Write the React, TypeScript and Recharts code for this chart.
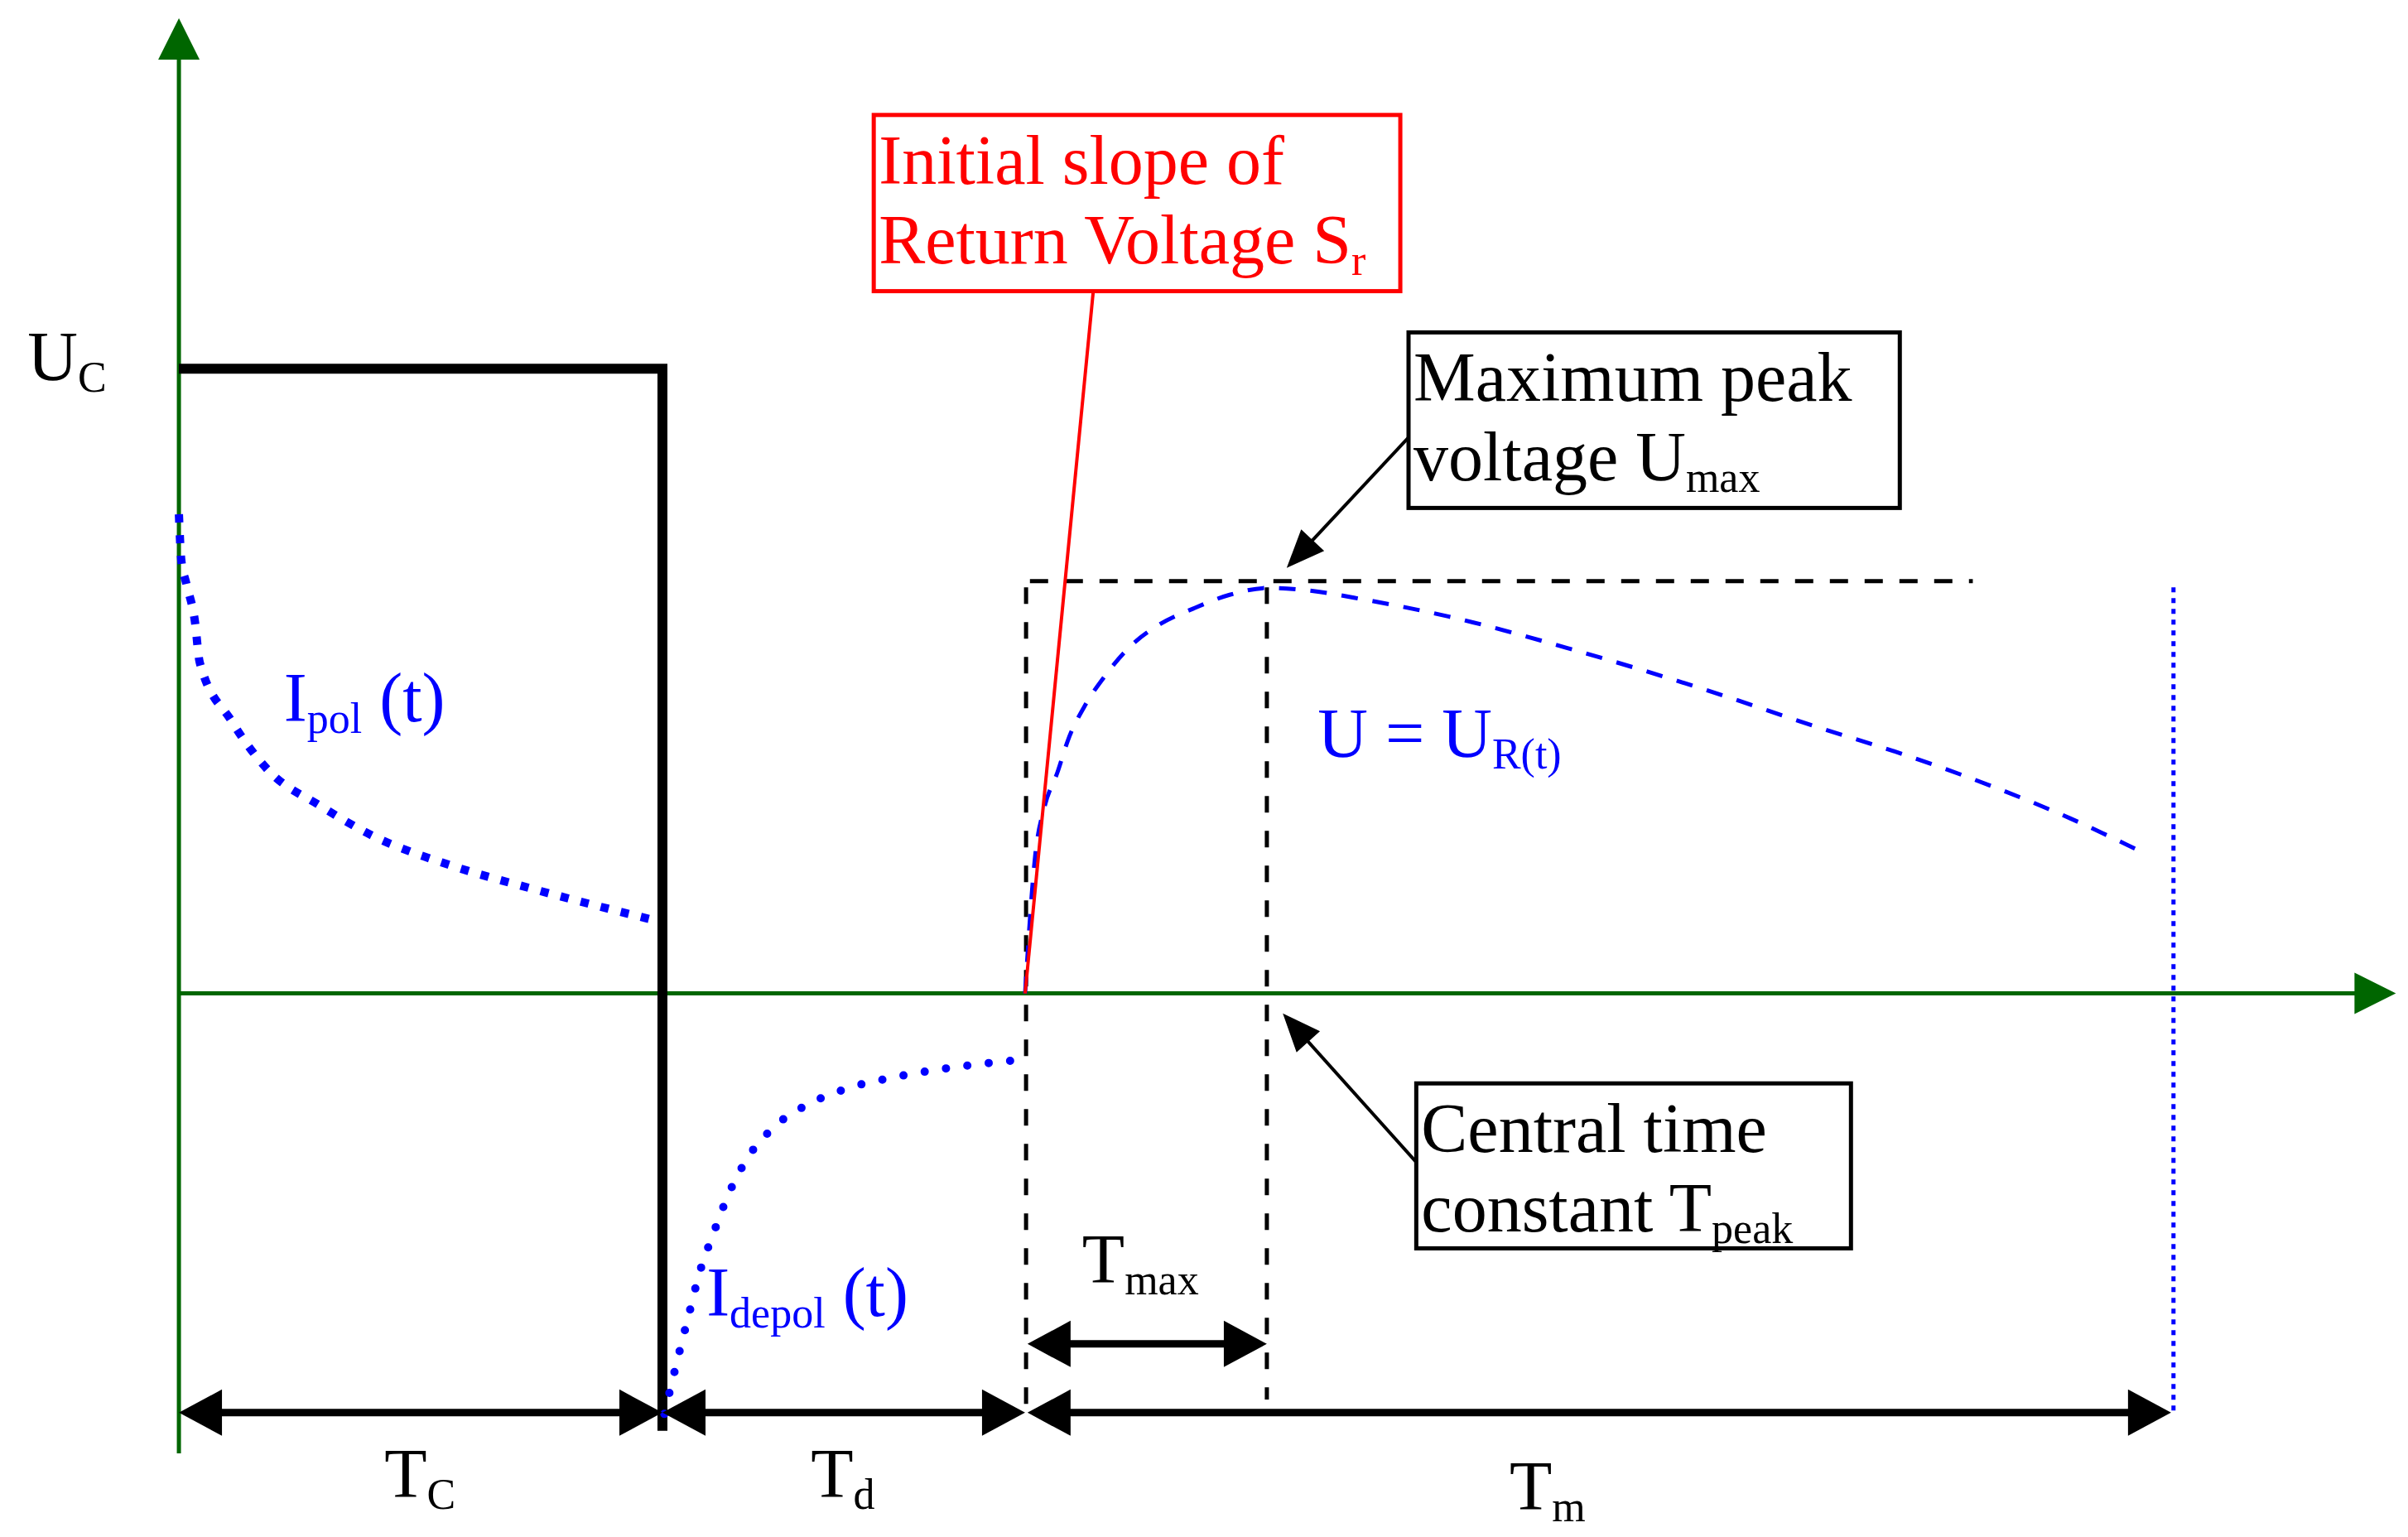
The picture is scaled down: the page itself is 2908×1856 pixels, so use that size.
import React from "react";
import {
  ComposedChart,
  Line,
  XAxis,
  YAxis,
  ReferenceLine,
  ReferenceArea,
  ReferenceDot,
} from "recharts";

const W = 2908;
const H = 1856;
const SERIF = "'Liberation Serif', 'Times New Roman', serif";
const FS = 84;
const SUB = 52;
const SUB_DY = 14;
const BLUE = "#0000ff";
const RED = "#ff0000";
const GREEN = "#006600";

// t: time (arbitrary units, 0 = start of charging), v: voltage / current, U_C = 1
const tDomain = [-3.7, 46.1];
const vDomain = [-0.87, 1.59];

const chargeVoltage = [
  { t: 0, v: 1 },
  { t: 10, v: 1 },
  { t: 10, v: -0.7 },
];

const polCurrent = [
  { t: 0.0, v: 0.767 },
  { t: 0.05, v: 0.693 },
  { t: 0.15, v: 0.657 },
  { t: 0.33, v: 0.596 },
  { t: 0.43, v: 0.53 },
  { t: 1.08, v: 0.437 },
  { t: 1.85, v: 0.357 },
  { t: 2.93, v: 0.3 },
  { t: 3.99, v: 0.253 },
  { t: 5.62, v: 0.205 },
  { t: 7.33, v: 0.167 },
  { t: 8.96, v: 0.134 },
  { t: 9.95, v: 0.115 },
];

const depolCurrent = [
  { t: 10.04, v: -0.673 },
  { t: 10.34, v: -0.577 },
  { t: 10.55, v: -0.513 },
  { t: 10.76, v: -0.449 },
  { t: 11.05, v: -0.385 },
  { t: 11.37, v: -0.321 },
  { t: 11.78, v: -0.261 },
  { t: 12.35, v: -0.211 },
  { t: 13.08, v: -0.175 },
  { t: 13.91, v: -0.15 },
  { t: 14.8, v: -0.134 },
  { t: 15.69, v: -0.122 },
  { t: 16.56, v: -0.113 },
  { t: 17.45, v: -0.106 },
];

const returnVoltage = [
  { t: 17.5, v: 0 },
  { t: 17.71, v: 0.221 },
  { t: 17.9, v: 0.298 },
  { t: 18.17, v: 0.354 },
  { t: 18.39, v: 0.406 },
  { t: 18.74, v: 0.461 },
  { t: 19.15, v: 0.508 },
  { t: 19.71, v: 0.558 },
  { t: 20.29, v: 0.591 },
  { t: 20.98, v: 0.616 },
  { t: 21.73, v: 0.638 },
  { t: 22.54, v: 0.649 },
  { t: 23.34, v: 0.645 },
  { t: 24.54, v: 0.63 },
  { t: 26.27, v: 0.603 },
  { t: 28.84, v: 0.55 },
  { t: 31.41, v: 0.49 },
  { t: 33.98, v: 0.424 },
  { t: 35.69, v: 0.382 },
  { t: 37.68, v: 0.326 },
  { t: 39.12, v: 0.28 },
  { t: 40.47, v: 0.231 },
];

const initialSlope = [
  { t: 17.5, v: 0 },
  { t: 18.91, v: 1.124 },
];
const umaxLevel = [
  { t: 17.6, v: 0.66 },
  { t: 37.1, v: 0.66 },
];
const tdEndMark = [
  { t: 17.52, v: 0.65 },
  { t: 17.52, v: -0.66 },
];
const tpeakMark = [
  { t: 22.5, v: 0.65 },
  { t: 22.5, v: -0.65 },
];
const tmEndMark = [
  { t: 41.25, v: 0.65 },
  { t: 41.25, v: -0.671 },
];

// axes drawn as arrows
const axisArrows = [
  { from: [0, -0.736], to: [0, 1.561] },
  { from: [0, 0], to: [45.85, 0] },
];

// dimension arrows (T_C, T_d, T_m, T_max)
const dimArrows = [
  { from: [0, -0.671], to: [10, -0.671] },
  { from: [10, -0.671], to: [17.5, -0.671] },
  { from: [17.55, -0.671], to: [41.2, -0.671] },
  { from: [17.55, -0.561], to: [22.5, -0.561] },
];

const pointerArrows = [
  { from: [25.42, 0.889], to: [22.91, 0.681] },
  { from: [25.59, -0.27], to: [22.83, -0.032] },
];

type Part = [string, number?];

const labels: { t: number; v: number; parts: Part[]; color: string }[] = [
  { t: -3.13, v: 0.981, parts: [["U"], ["C", 1]], color: "#000" },
  { t: 2.17, v: 0.435, parts: [["I"], ["pol", 1], [" (t)"]], color: BLUE },
  { t: 10.91, v: -0.516, parts: [["I"], ["depol", 1], [" (t)"]], color: BLUE },
  { t: 23.55, v: 0.379, parts: [["U = U"], ["R(t)", 1]], color: BLUE },
  { t: 18.68, v: -0.463, parts: [["T"], ["max", 1]], color: "#000" },
  { t: 4.25, v: -0.806, parts: [["T"], ["C", 1]], color: "#000" },
  { t: 13.07, v: -0.806, parts: [["T"], ["d", 1]], color: "#000" },
  { t: 27.52, v: -0.826, parts: [["T"], ["m", 1]], color: "#000" },
];

const boxes: { t1: number; t2: number; v1: number; v2: number; color: string; lines: Part[][] }[] = [
  {
    t1: 14.37, t2: 25.26, v1: 1.124, v2: 1.406, color: RED,
    lines: [[["Initial slope of"]], [["Return Voltage S"], ["r", 1]]],
  },
  {
    t1: 25.43, t2: 35.59, v1: 0.777, v2: 1.058, color: "#000",
    lines: [[["Maximum peak"]], [["voltage U"], ["max", 1]]],
  },
  {
    t1: 25.59, t2: 34.58, v1: -0.408, v2: -0.144, color: "#000",
    lines: [[["Central time"]], [["constant T"], ["peak", 1]]],
  },
];

const Rich = ({ x, y, parts, color }: { x: number; y: number; parts: Part[]; color: string }) => {
  let low = false;
  return (
    <text x={x} y={y} fill={color} fontFamily={SERIF} fontSize={FS} style={{ whiteSpace: "pre" }}>
      {parts.map(([s, sub], i) => {
        const dy = sub && !low ? SUB_DY : !sub && low ? -SUB_DY : 0;
        low = !!sub;
        return (
          <tspan key={i} dy={dy} fontSize={sub ? SUB : FS}>
            {s}
          </tspan>
        );
      })}
    </text>
  );
};

const arrowShape =
  (color: string, width: number, len: number, half: number, both: boolean) => (p: any) => {
    const { x1, y1, x2, y2 } = p;
    const dx = x2 - x1;
    const dy = y2 - y1;
    const L = Math.hypot(dx, dy) || 1;
    const ux = dx / L;
    const uy = dy / L;
    const nx = -uy;
    const ny = ux;
    const head = (tx: number, ty: number, dx0: number, dy0: number) => {
      const bx = tx - dx0 * len;
      const by = ty - dy0 * len;
      return `${tx},${ty} ${bx + nx * half},${by + ny * half} ${bx - nx * half},${by - ny * half}`;
    };
    const sx = both ? x1 + ux * len * 0.8 : x1;
    const sy = both ? y1 + uy * len * 0.8 : y1;
    return (
      <g>
        <line x1={sx} y1={sy} x2={x2 - ux * len * 0.8} y2={y2 - uy * len * 0.8} stroke={color} strokeWidth={width} />
        <polygon points={head(x2, y2, ux, uy)} fill={color} />
        {both && <polygon points={head(x1, y1, -ux, -uy)} fill={color} />}
      </g>
    );
  };

const boxShape = (color: string, lines: Part[][]) => (p: any) => {
  const { x, y, width, height } = p;
  return (
    <g>
      <rect x={x} y={y} width={width} height={height} fill="#fff" stroke={color} strokeWidth={5} />
      {lines.map((parts, i) => (
        <Rich key={i} x={x + 6} y={y + 83 + i * 96} parts={parts} color={color} />
      ))}
    </g>
  );
};

const App = () => {
  return (
    <div style={{ position: "absolute", left: 0, top: 0, width: W, height: H, background: "#fff" }}>
      <ComposedChart width={W} height={H} margin={{ top: 0, right: 0, bottom: 0, left: 0 }}>
        <XAxis type="number" dataKey="t" domain={tDomain} allowDataOverflow hide />
        <YAxis type="number" dataKey="v" domain={vDomain} allowDataOverflow hide />

        {axisArrows.map((a, i) => (
          <ReferenceLine
            key={`ax${i}`}
            segment={[{ x: a.from[0], y: a.from[1] }, { x: a.to[0], y: a.to[1] }]}
            ifOverflow="visible"
            shape={arrowShape(GREEN, 5, 50, 25, false)}
          />
        ))}

        <Line data={chargeVoltage} dataKey="v" type="linear" stroke="#000" strokeWidth={12}
          strokeLinejoin="miter" dot={false} activeDot={false} isAnimationActive={false} />
        <Line data={polCurrent} dataKey="v" type="monotone" stroke={BLUE} strokeWidth={10}
          strokeDasharray="10 15" dot={false} activeDot={false} isAnimationActive={false} />
        <Line data={depolCurrent} dataKey="v" type="monotone" stroke={BLUE} strokeWidth={10}
          strokeLinecap="round" strokeDasharray="0 26" dot={false} activeDot={false} isAnimationActive={false} />
        <Line data={umaxLevel} dataKey="v" type="linear" stroke="#000" strokeWidth={5}
          strokeDasharray="22 20" dot={false} activeDot={false} isAnimationActive={false} />
        <Line data={tdEndMark} dataKey="v" type="linear" stroke="#000" strokeWidth={5}
          strokeDasharray="20 22" dot={false} activeDot={false} isAnimationActive={false} />
        <Line data={tpeakMark} dataKey="v" type="linear" stroke="#000" strokeWidth={5}
          strokeDasharray="20 22" dot={false} activeDot={false} isAnimationActive={false} />
        <Line data={tmEndMark} dataKey="v" type="linear" stroke={BLUE} strokeWidth={5}
          strokeDasharray="6 7" dot={false} activeDot={false} isAnimationActive={false} />
        <Line data={returnVoltage} dataKey="v" type="monotone" stroke={BLUE} strokeWidth={5}
          strokeDasharray="20 18" dot={false} activeDot={false} isAnimationActive={false} />
        <Line data={initialSlope} dataKey="v" type="linear" stroke={RED} strokeWidth={4}
          dot={false} activeDot={false} isAnimationActive={false} />

        {dimArrows.map((a, i) => (
          <ReferenceLine
            key={`dim${i}`}
            segment={[{ x: a.from[0], y: a.from[1] }, { x: a.to[0], y: a.to[1] }]}
            ifOverflow="visible"
            shape={arrowShape("#000", 9, 52, 28, true)}
          />
        ))}
        {pointerArrows.map((a, i) => (
          <ReferenceLine
            key={`ptr${i}`}
            segment={[{ x: a.from[0], y: a.from[1] }, { x: a.to[0], y: a.to[1] }]}
            ifOverflow="visible"
            shape={arrowShape("#000", 4, 46, 19, false)}
          />
        ))}

        {boxes.map((b, i) => (
          <ReferenceArea
            key={`box${i}`}
            x1={b.t1}
            x2={b.t2}
            y1={b.v1}
            y2={b.v2}
            ifOverflow="visible"
            shape={boxShape(b.color, b.lines)}
          />
        ))}

        {labels.map((l, i) => (
          <ReferenceDot
            key={`lab${i}`}
            x={l.t}
            y={l.v}
            r={0}
            ifOverflow="visible"
            shape={(p: any) => <Rich x={p.cx} y={p.cy} parts={l.parts} color={l.color} />}
          />
        ))}
      </ComposedChart>
    </div>
  );
};

export default App;
